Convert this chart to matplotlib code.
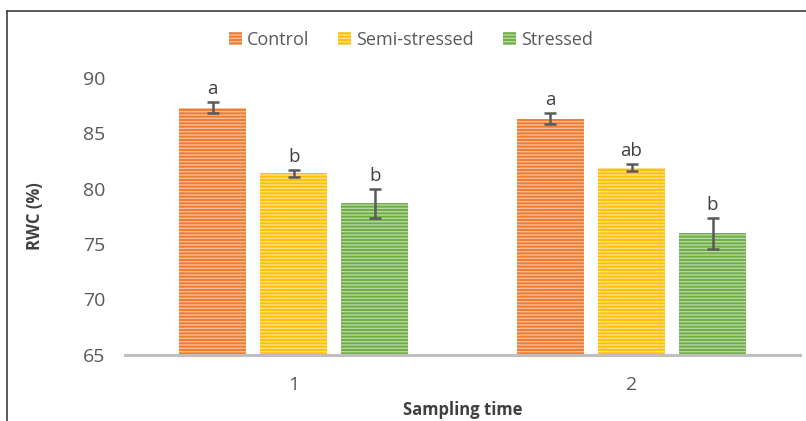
import numpy as np
import matplotlib.pyplot as plt
from matplotlib.lines import Line2D

plt.rcParams['font.family'] = ['Open Sans', 'DejaVu Sans']
plt.rcParams['hatch.linewidth'] = 1.0

times = ['1', '2']
groups = ['Control', 'Semi-stressed', 'Stressed']
control = [87.3, 86.3]
semi = [81.4, 81.9]
stressed = [78.7, 76.0]
control_err = [0.5, 0.5]
semi_err = [0.3, 0.3]
stressed_err = [1.3, 1.4]
control_lab = ['a', 'a']
semi_lab = ['b', 'ab']
stressed_lab = ['b', 'b']

colors = ['#ED7D31', '#FFC000', '#70AD47']
stripes = ['#F7BC95', '#FFE08A', '#B5D8A0']
grey = '#595959'

fig = plt.figure(figsize=(8.06, 4.21), dpi=100)
ax = fig.add_axes([0.155, 0.157, 0.838, 0.658])

x = np.arange(len(times))
w = 0.199
step = 0.24
series = [(control, control_err, control_lab),
          (semi, semi_err, semi_lab),
          (stressed, stressed_err, stressed_lab)]
for i, (vals, errs, labs) in enumerate(series):
    pos = x + (i - 1) * step
    ax.bar(pos, np.array(vals) - 65, w, bottom=65, color=colors[i],
           edgecolor=stripes[i], linewidth=0, hatch='-----', label=groups[i])
    ax.errorbar(pos, vals, yerr=errs, fmt='none', ecolor=grey, elinewidth=1.8,
                capsize=4.5, capthick=1.8, clip_on=False)
    for p, v, e, t in zip(pos, vals, errs, labs):
        ax.text(p, v + e + 0.35, t, ha='center', va='bottom', fontsize=13.5,
                color='#404040')

ax.set_xlim(-0.5, 1.5)
ax.set_ylim(65, 90)
ax.set_yticks([65, 70, 75, 80, 85, 90])
ax.set_xticks(x)
ax.set_xticklabels(times)
ax.tick_params(length=0, labelsize=14, colors=grey)
ax.tick_params(axis='y', pad=14)
ax.tick_params(axis='x', pad=15)
for s in ['top', 'right', 'left']:
    ax.spines[s].set_visible(False)
ax.spines['bottom'].set_color('#BFBFBF')
ax.spines['bottom'].set_linewidth(2.2)
ax.set_ylabel('RWC (%)', fontsize=12, fontweight='bold', color='#404040', labelpad=28)
ax.set_xlabel('Sampling time', fontsize=12, fontweight='bold', color='#404040', labelpad=5)

ax.legend(loc='center', bbox_to_anchor=(0.51, 0.905), bbox_transform=fig.transFigure,
          ncol=3, frameon=False, fontsize=13, handlelength=0.7, handleheight=0.7,
          handletextpad=0.3, columnspacing=1.6, labelcolor=grey)

# outer frame (left and top edges only are visible in the original)
fig.add_artist(Line2D([7 / 806, 7 / 806], [0, 1 - 11 / 421], color='#404040', lw=1.2))
fig.add_artist(Line2D([7 / 806, 1], [1 - 11 / 421, 1 - 11 / 421], color='#404040', lw=1.2))

fig.savefig('out.png', dpi=100)
